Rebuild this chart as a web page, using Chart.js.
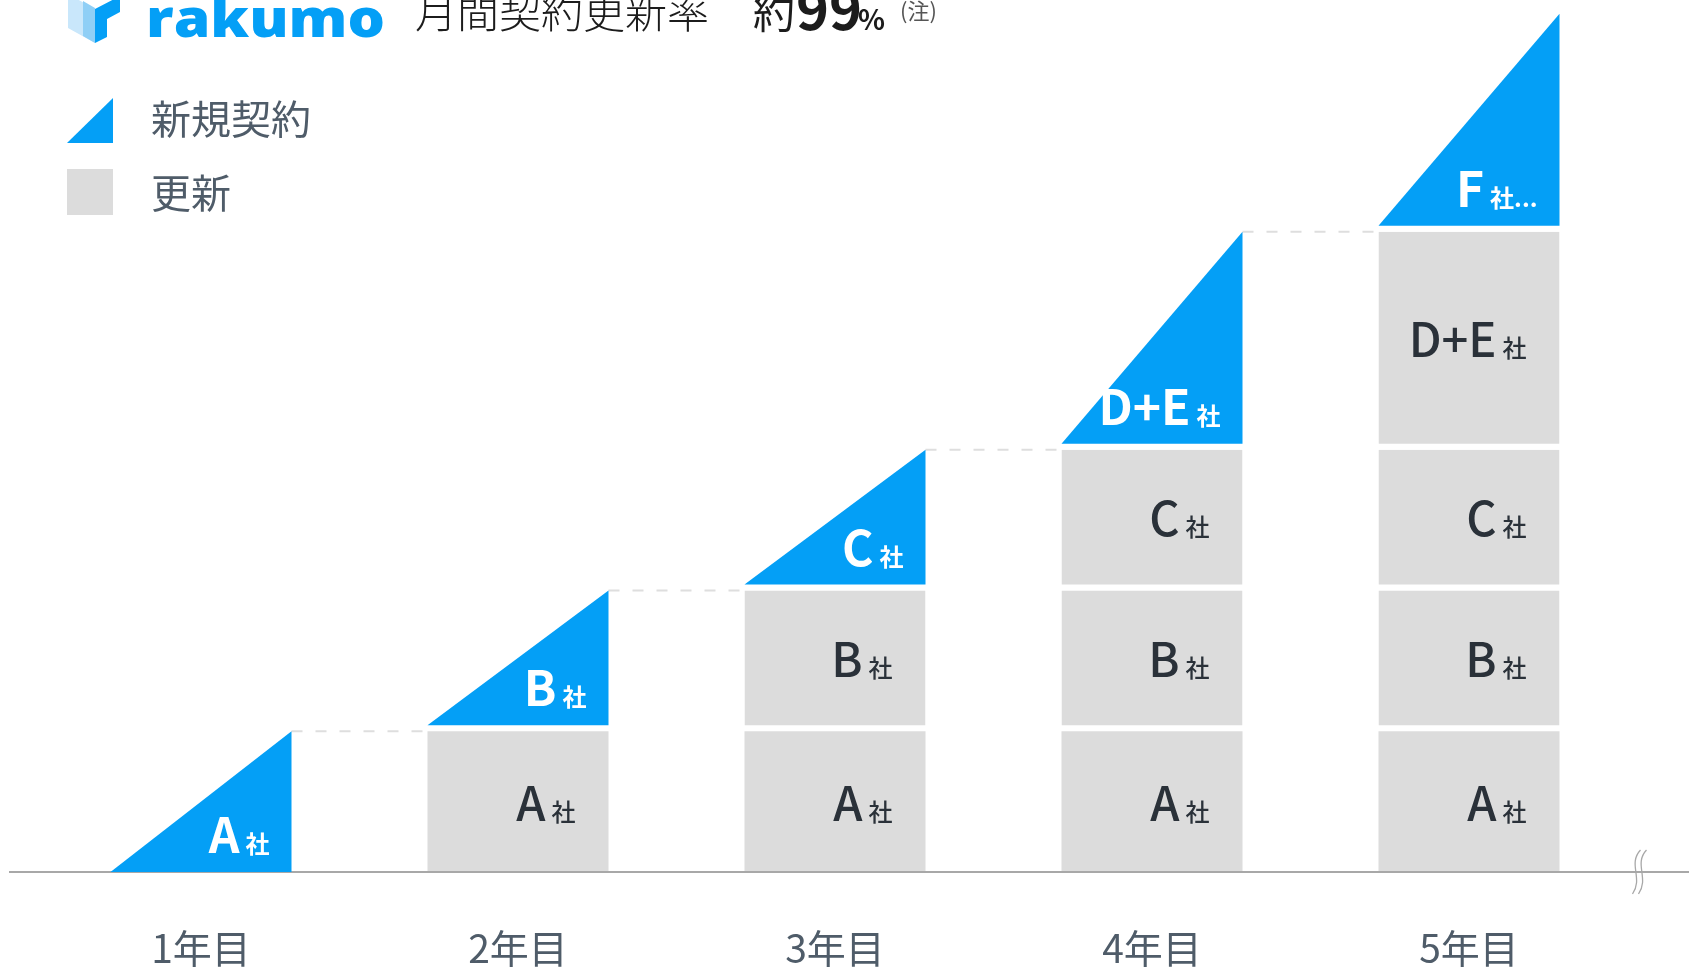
<!DOCTYPE html>
<html lang="ja">
<head>
<meta charset="utf-8">
<title>rakumo 月間契約更新率</title>
<script src="https://cdn.jsdelivr.net/npm/chart.js@4.4.1/dist/chart.umd.min.js"></script>
<style>
  html, body { margin: 0; padding: 0; background: #fff; }
  #wrap { position: relative; width: 1689px; height: 967px; }
</style>
</head>
<body>
<div id="wrap"><canvas id="renewalChart"></canvas></div>
<script>
// 1 = 1社ぶんの高さ（年ごとに積み上げ）
const years = ["1年目", "2年目", "3年目", "4年目", "5年目"];
const companyLabels = ["A社", "B社", "C社", "D+E社", "F社..."];
const companyA = [1, 1, 1, 1, 1];
const companyB = [null, 1, 1, 1, 1];
const companyC = [null, null, 1, 1, 1];
const companyDE = [null, null, null, 1.55, 1.55];
const companyF = [null, null, null, null, 1.55];
const legendLabels = ["新規契約", "更新"];
const titleText = "月間契約更新率";
const rateLabel = "約";
const rateValue = "99";
const rateUnit = "%";
const noteText = "(注)";

const BLUE = "#049ff6";
const GRAY = "#dcdcdc";
const INK = "#2a3139";
const SLATE = "#4f5c69";
const FONT = '"Noto Sans CJK JP", "Noto Sans", sans-serif';
const SEGMENT_GAP = 6; // white gap between stacked blocks

const series = [companyA, companyB, companyC, companyDE, companyF];

// a company is "new" the first year it shows up
const isNew = (d, i) =>
	series[d][i] != null && (i === 0 || series[d][i - 1] == null);

const drawCompanyLabel = (ctx, label, right, baseline, fresh) => {
	const cut = label.indexOf("社");
	const name = label.slice(0, cut);
	const suffix = label.slice(cut);
	ctx.fillStyle = fresh ? "#fff" : INK;
	ctx.textAlign = "right";
	ctx.textBaseline = "alphabetic";
	ctx.font = (fresh ? "700 " : "500 ") + "24px " + FONT;
	ctx.fillText(suffix, right, baseline);
	const suffixWidth = ctx.measureText(suffix).width;
	ctx.font = (fresh ? "700 48px " : "500 47px ") + FONT;
	ctx.fillText(name, right - suffixWidth - 6, baseline);
};

const stepPlugin = {
	id: "steps",
	afterDatasetsDraw(chart) {
		const ctx = chart.ctx;
		const metas = series.map((_, d) => chart.getDatasetMeta(d));

		ctx.save();
		// dashed connectors from each year's top to the next bar
		ctx.strokeStyle = "#dedede";
		ctx.lineWidth = 2;
		ctx.setLineDash([11, 13]);
		for (let i = 0; i < years.length - 1; i++) {
			let top = 0;
			series.forEach((s, d) => {
				if (s[i] != null) top = d;
			});
			const bar = metas[top].data[i];
			const next = metas[0].data[i + 1];
			ctx.beginPath();
			ctx.moveTo(bar.x + bar.width / 2, bar.y);
			ctx.lineTo(next.x - next.width / 2, bar.y);
			ctx.stroke();
		}
		ctx.setLineDash([]);

		// new contracts drawn as right triangles
		series.forEach((s, d) => {
			metas[d].data.forEach((bar, i) => {
				if (!isNew(d, i)) return;
				const bottom = d === 0 ? bar.base : bar.base - SEGMENT_GAP;
				const left = bar.x - bar.width / 2;
				const right = bar.x + bar.width / 2;
				ctx.fillStyle = BLUE;
				ctx.beginPath();
				ctx.moveTo(left, bottom);
				ctx.lineTo(right, bottom);
				ctx.lineTo(right, bar.y);
				ctx.closePath();
				ctx.fill();
			});
		});

		// company names
		series.forEach((s, d) => {
			metas[d].data.forEach((bar, i) => {
				if (s[i] == null) return;
				const fresh = isNew(d, i);
				const right = bar.x + bar.width / 2;
				const bottom = d === 0 ? bar.base : bar.base - SEGMENT_GAP;
				if (fresh) {
					drawCompanyLabel(ctx, companyLabels[d], right - 22, bottom - 19, true);
				} else {
					drawCompanyLabel(ctx, companyLabels[d], right - 33, (bar.y + bottom) / 2 + 19, false);
				}
			});
		});
		ctx.restore();
	},
};

const baselinePlugin = {
	id: "baseline",
	afterDatasetsDraw(chart) {
		const {ctx, width, chartArea} = chart;
		const y = chart.scales.y.getPixelForValue(0);
		ctx.save();
		ctx.strokeStyle = "#a8a8a8";
		ctx.lineWidth = 2;
		ctx.beginPath();
		ctx.moveTo(9, y);
		ctx.lineTo(width, y);
		ctx.stroke();
		// break mark
		ctx.lineWidth = 1.3;
		[0, 6].forEach((dx) => {
			const x = chartArea.right + 6 + dx;
			ctx.beginPath();
			ctx.moveTo(x + 7, y - 22);
			ctx.bezierCurveTo(x - 6, y - 8, x + 10, y + 6, x - 1, y + 22);
			ctx.stroke();
		});
		ctx.restore();
	},
};

const headerPlugin = {
	id: "header",
	afterDraw(chart) {
		const ctx = chart.ctx;
		ctx.save();

		// logo cube
		ctx.fillStyle = "#c9e7fb";
		ctx.beginPath();
		ctx.moveTo(68, -6); ctx.lineTo(68, 28); ctx.lineTo(95, 43); ctx.lineTo(95, 9);
		ctx.closePath(); ctx.fill();
		ctx.fillStyle = "#8fcff6";
		ctx.beginPath();
		ctx.moveTo(83, 1); ctx.lineTo(95, 8); ctx.lineTo(95, 43); ctx.lineTo(83, 36);
		ctx.closePath(); ctx.fill();
		ctx.fillStyle = BLUE;
		ctx.beginPath();
		ctx.moveTo(95, 9); ctx.lineTo(120, -4); ctx.lineTo(120, 12); ctx.lineTo(107, 19);
		ctx.lineTo(107, 37); ctx.lineTo(95, 43);
		ctx.closePath(); ctx.fill();

		// logo type
		ctx.fillStyle = BLUE;
		ctx.font = '800 53px "Open Sans", sans-serif';
		ctx.textAlign = "left";
		ctx.textBaseline = "alphabetic";
		const logoWidth = ctx.measureText("rakumo").width;
		ctx.save();
		ctx.translate(146, 37);
		ctx.scale(239 / logoWidth, 1);
		ctx.fillText("rakumo", 0, 0);
		ctx.restore();

		// title
		ctx.fillStyle = "#1c1c1c";
		ctx.font = "300 42px " + FONT;
		ctx.fillText(titleText, 415, 28);
		ctx.font = "400 42px " + FONT;
		ctx.fillText(rateLabel, 753, 28);
		ctx.font = "700 56px " + FONT;
		ctx.fillText(rateValue, 796, 30);
		ctx.font = "700 28px " + FONT;
		ctx.fillText(rateUnit, 858, 30);
		ctx.fillStyle = "#555";
		ctx.font = "400 22px " + FONT;
		ctx.fillText(noteText, 900, 19);

		// legend
		ctx.fillStyle = BLUE;
		ctx.beginPath();
		ctx.moveTo(67, 143); ctx.lineTo(113, 143); ctx.lineTo(113, 98);
		ctx.closePath(); ctx.fill();
		ctx.fillStyle = GRAY;
		ctx.fillRect(67, 169, 46, 46);
		ctx.fillStyle = SLATE;
		ctx.font = "400 40px " + FONT;
		ctx.textBaseline = "middle";
		ctx.fillText(legendLabels[0], 151, 119);
		ctx.fillText(legendLabels[1], 151, 193);
		ctx.restore();
	},
};

const datasets = series.map((data, d) => ({
	label: companyLabels[d],
	data: data,
	backgroundColor: (ctx) => (isNew(d, ctx.dataIndex) ? "rgba(0,0,0,0)" : GRAY),
	borderColor: "#fff",
	borderWidth: d === 0 ? 0 : {top: 0, right: 0, bottom: SEGMENT_GAP, left: 0},
	borderSkipped: false,
	barPercentage: 1,
	categoryPercentage: 0.571,
}));

new Chart(document.getElementById("renewalChart"), {
	type: "bar",
	data: {
		labels: years,
		datasets: datasets,
	},
	plugins: [baselinePlugin, stepPlugin, headerPlugin],
	options: {
		responsive: true,
		maintainAspectRatio: false,
		animation: false,
		events: [],
		layout: {
			padding: {left: 42.5, right: 61.5, top: 1, bottom: 0},
		},
		plugins: {
			legend: {display: false},
			tooltip: {enabled: false},
		},
		scales: {
			x: {
				stacked: true,
				grid: {display: false, drawTicks: false},
				border: {display: false},
				ticks: {
					color: SLATE,
					padding: 57,
					font: {family: FONT, size: 39, lineHeight: 1},
				},
				afterFit: (scale) => {
					scale.height = 95;
				},
			},
			y: {
				stacked: true,
				display: false,
				min: 0,
				max: 6.19,
			},
		},
	},
});
</script>
</body>
</html>
